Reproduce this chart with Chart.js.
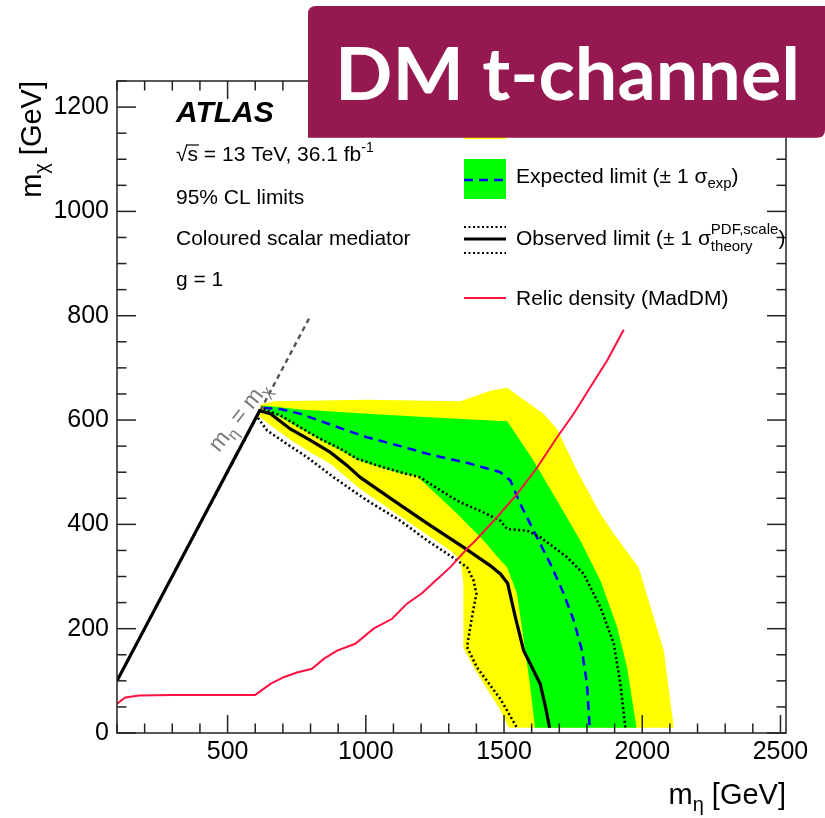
<!DOCTYPE html>
<html><head><meta charset="utf-8">
<script src="https://cdn.jsdelivr.net/npm/chart.js@4.4.1/dist/chart.umd.min.js"></script>
<style>html,body{margin:0;padding:0;background:#fff;}canvas{display:block;}</style>
</head><body>
<canvas id="c" width="825" height="818" style="width:825px;height:818px"></canvas>
<script>
// ---- data (m_eta [GeV], m_chi [GeV]) ----
const xTickLabels = [500, 1000, 1500, 2000, 2500];
const yTickLabels = [0, 200, 400, 600, 800, 1000, 1200];

const diagonal = [[100,100],[800,800]];

const yellowBand = [[619,630],[667,636],[1004,639],[1342,636],[1450,656],[1511,662],[1643,612],[1692,583],[1764,503],[1849,420],[1897,382],[1987,318],[2023,254],[2078,158],[2114,10],
  [1518,10],[1487,43],[1390,126],[1352,164],[1352,222],[1354,286],[1342,331],[1306,350],[1222,380],[1100,424],[980,468],[872,516],[800,538],[727,562],[655,590],[612,608]];

const greenBand = [[630,628],[763,620],[1004,612],[1246,605],[1487,598],[1511,598],[1607,522],[1691,446],[1776,369],[1849,292],[1909,203],[1945,126],[1979,10],
  [1612,10],[1592,100],[1568,190],[1547,267],[1511,318],[1487,331],[1426,369],[1342,414],[1306,433],[1185,492],[1125,498],[1041,511],[968,524],[908,542],[835,562],[763,584],[691,606],[630,618]];

const expectedLimit = [[630,623],[691,621],[763,612],[884,589],[1004,567],[1125,550],[1246,532],[1366,518],[1487,500],[1523,484],[1559,439],[1607,388],[1668,324],[1716,267],[1752,216],[1782,158],[1800,94],[1810,10]];

const observedLimit = [[100,100],[616,618],[655,612],[727,583],[800,561],[872,538],[932,513],[980,490],[1100,446],[1222,402],[1354,356],[1450,321],[1487,305],[1513,287],[1541,222],[1571,158],[1601,126],[1631,94],[1650,50],[1665,10]];

const observedUp = [[630,621],[691,609],[763,586],[835,564],[908,545],[968,526],[1041,513],[1125,500],[1197,490],[1270,465],[1342,442],[1414,426],[1487,407],[1511,391],[1583,388],[1632,375],[1728,337],[1788,305],[1849,241],[1897,171],[1921,94],[1939,10]];

const observedDown = [[610,604],[643,580],[715,554],[787,529],[884,490],[1004,446],[1125,407],[1222,369],[1294,344],[1366,318],[1390,292],[1400,267],[1384,222],[1366,165],[1402,126],[1487,65],[1547,10]];

const relicDensity = [[100,56],[130,68],[180,72],[300,73],[600,73],[655,94],[703,107],[751,116],[805,123],[848,142],[896,158],[962,171],[1028,200],[1095,219],[1149,248],[1203,268],[1246,289],[1306,318],[1366,353],[1402,372],[1475,414],[1547,458],[1620,509],[1692,567],[1752,612],[1812,663],[1873,714],[1933,773]];

// ---- chart ----
const toXY = a => a.map(([x, y]) => ({x, y}));
const FONT = '"Liberation Sans", Arial, Helvetica, sans-serif';

function line(ctx, x1, y1, x2, y2) { ctx.beginPath(); ctx.moveTo(x1, y1); ctx.lineTo(x2, y2); ctx.stroke(); }
function runs(ctx, x, y, parts) {
  for (const p of parts) {
    ctx.font = (p.style || '') + ' ' + p.size + 'px ' + FONT;
    ctx.fillText(p.t, x, y + (p.dy || 0));
    x += ctx.measureText(p.t).width;
  }
  return x;
}
function runsWidth(ctx, parts) {
  let w = 0;
  for (const p of parts) { ctx.font = (p.style || '') + ' ' + p.size + 'px ' + FONT; w += ctx.measureText(p.t).width; }
  return w;
}

const deco = {
  id: 'deco',
  afterDatasetsDraw(chart) {
    const ctx = chart.ctx, a = chart.chartArea, xs = chart.scales.x, ys = chart.scales.y;
    ctx.save();
    ctx.strokeStyle = '#222'; ctx.lineWidth = 1.5;
    for (let v = 100; v <= 2500; v += 100) {
      const px = xs.getPixelForValue(v), L = v % 500 === 0 ? 18 : 9.5;
      line(ctx, px, a.bottom, px, a.bottom - L);
      line(ctx, px, a.top, px, a.top + L);
    }
    for (let v = 0; v <= 1250; v += 50) {
      const py = ys.getPixelForValue(v), L = v % 200 === 0 ? 19 : 9.5;
      line(ctx, a.left, py, a.left + L, py);
      line(ctx, a.right, py, a.right - L, py);
    }
    ctx.strokeRect(a.left, a.top, a.right - a.left, a.bottom - a.top);
    ctx.restore();
  },
  afterDraw(chart) {
    const ctx = chart.ctx, a = chart.chartArea;
    ctx.save();
    ctx.fillStyle = '#000';
    ctx.textBaseline = 'alphabetic';
    // axis titles
    const xt = [{t:'m', size:29}, {t:'\u03b7', size:20, dy:7}, {t:' [GeV]', size:29}];
    const wx = runsWidth(ctx, xt);
    runs(ctx, a.right - wx, 804, xt);
    const yt = [{t:'m', size:29}, {t:'\u03c7', size:20, dy:7}, {t:' [GeV]', size:29}];
    const wy = runsWidth(ctx, yt);
    ctx.save(); ctx.translate(41, a.top + wy); ctx.rotate(-Math.PI/2); runs(ctx, 0, 0, yt); ctx.restore();

    // ATLAS block
    runs(ctx, 176, 122, [{t:'ATLAS', size:30, style:'italic bold'}]);
    ctx.font = '21px ' + FONT;
    const wr = ctx.measureText('\u221a').width, ws = ctx.measureText('s').width;
    let ex = runs(ctx, 176, 161, [{t:'\u221as = 13 TeV, 36.1 fb', size:21}]);
    runs(ctx, ex, 161, [{t:'-1', size:14, dy:-9}]);
    ctx.strokeStyle = '#000'; ctx.lineWidth = 1.2;
    line(ctx, 176 + wr - 1, 145, 176 + wr + ws + 1, 145);
    runs(ctx, 176, 204, [{t:'95% CL limits', size:21}]);
    runs(ctx, 176, 245, [{t:'Coloured scalar mediator', size:21}]);
    runs(ctx, 176, 286, [{t:'g = 1', size:21}]);

    // m_eta = m_chi label
    ctx.save();
    ctx.fillStyle = '#7a7a7a';
    ctx.translate(219, 453); ctx.rotate(-52 * Math.PI / 180);
    runs(ctx, 0, 0, [{t:'m', size:23}, {t:'\u03b7', size:16, dy:5}, {t:' = m', size:23}, {t:'\u03c7', size:16, dy:5}]);
    ctx.restore();

    // legend
    const lx0 = 464, lx1 = 506, tx = 516;
    ctx.fillStyle = '#ffff00'; ctx.fillRect(lx0, 99, lx1 - lx0, 40);
    ctx.fillStyle = '#00ff00'; ctx.fillRect(lx0, 159, lx1 - lx0, 40);
    ctx.strokeStyle = '#0000ff'; ctx.lineWidth = 2.5; ctx.setLineDash([9, 6]);
    line(ctx, lx0, 180, lx1, 180);
    ctx.strokeStyle = '#000'; ctx.setLineDash([2, 2.5]); ctx.lineWidth = 2.2;
    line(ctx, lx0, 227, lx1, 227); line(ctx, lx0, 253, lx1, 253);
    ctx.setLineDash([]); ctx.lineWidth = 3;
    line(ctx, lx0, 239, lx1, 239);
    ctx.strokeStyle = '#ff1040'; ctx.lineWidth = 2;
    line(ctx, lx0, 298, lx1, 298);
    ctx.fillStyle = '#000';
    let e = runs(ctx, tx, 183, [{t:'Expected limit (\u00b1 1 \u03c3', size:21}]);
    e = runs(ctx, e, 183, [{t:'exp', size:15, dy:5}]);
    runs(ctx, e, 183, [{t:')', size:21}]);
    let o = runs(ctx, tx, 245, [{t:'Observed limit (\u00b1 1 \u03c3', size:21}]);
    const o1 = runs(ctx, o, 245, [{t:'PDF,scale', size:15, dy:-11}]);
    const o2 = runs(ctx, o, 245, [{t:'theory', size:15, dy:6}]);
    runs(ctx, Math.max(o1, o2), 245, [{t:')', size:21}]);
    runs(ctx, tx, 304.5, [{t:'Relic density (MadDM)', size:21}]);

    // banner
    const bx = 308, by = 6, bx2 = 825, by2 = 137.7, r = 8;
    ctx.fillStyle = '#951850';
    ctx.beginPath();
    ctx.moveTo(bx + r, by); ctx.lineTo(bx2, by); ctx.lineTo(bx2, by2 - r);
    ctx.quadraticCurveTo(bx2, by2, bx2 - r, by2);
    ctx.lineTo(bx, by2); ctx.lineTo(bx, by + r);
    ctx.quadraticCurveTo(bx, by, bx + r, by);
    ctx.closePath(); ctx.fill();
    ctx.fillStyle = '#fff';
    ctx.font = 'bold 72px Lato, "Open Sans", sans-serif';
    const bw = ctx.measureText('DM t-channel').width;
    ctx.save();
    ctx.translate(335, 99.5);
    ctx.scale(465 / bw, 1);
    ctx.fillText('DM t-channel', 0, 0);
    ctx.restore();
    ctx.restore();
  }
};

const lineDs = (label, data, opts) => Object.assign({
  label, data: toXY(data), showLine: true, pointRadius: 0, borderWidth: 2, fill: false, tension: 0
}, opts);

new Chart(document.getElementById('c'), {
  type: 'scatter',
  data: {
    datasets: [
      lineDs('Relic density (MadDM)', relicDensity, {borderColor: '#ff1040', borderWidth: 2}),
      lineDs('Observed limit', observedLimit, {borderColor: '#000', borderWidth: 3.2}),
      lineDs('Observed +1 sigma theory', observedUp, {borderColor: '#000', borderWidth: 2.6, borderDash: [2, 2.6]}),
      lineDs('Observed -1 sigma theory', observedDown, {borderColor: '#000', borderWidth: 2.6, borderDash: [2, 2.6]}),
      lineDs('Expected limit', expectedLimit, {borderColor: '#0000ff', borderWidth: 2.5, borderDash: [9, 6]}),
      lineDs('m_eta = m_chi', diagonal, {borderColor: '#555', borderWidth: 2.4, borderDash: [5, 4]}),
      lineDs('Expected +-1 sigma', greenBand, {borderWidth: 0, borderColor: 'rgba(0,0,0,0)', backgroundColor: '#00ff00', fill: 'shape'}),
      lineDs('Expected +-2 sigma', yellowBand, {borderWidth: 0, borderColor: 'rgba(0,0,0,0)', backgroundColor: '#ffff00', fill: 'shape'})
    ]
  },
  options: {
    responsive: false, animation: false, devicePixelRatio: 1, events: [],
    layout: {padding: {top: 81, right: 39, left: 0, bottom: 0}},
    plugins: {legend: {display: false}, tooltip: {enabled: false}},
    scales: {
      x: {
        type: 'linear', min: 100, max: 2520,
        grid: {display: false, drawTicks: false}, border: {display: false},
        afterBuildTicks: s => { s.ticks = xTickLabels.map(v => ({value: v})); },
        afterFit: s => { s.height = 85; },
        ticks: {color: '#000', font: {family: FONT, size: 25}, padding: 4, maxRotation: 0, callback: v => String(v)}
      },
      y: {
        type: 'linear', min: 0, max: 1250,
        grid: {display: false, drawTicks: false}, border: {display: false},
        afterBuildTicks: s => { s.ticks = yTickLabels.map(v => ({value: v})); },
        afterFit: s => { s.width = 117; },
        ticks: {color: '#000', font: {family: FONT, size: 25}, padding: 8, callback: v => String(v)}
      }
    }
  },
  plugins: [deco]
});
</script>
</body></html>
